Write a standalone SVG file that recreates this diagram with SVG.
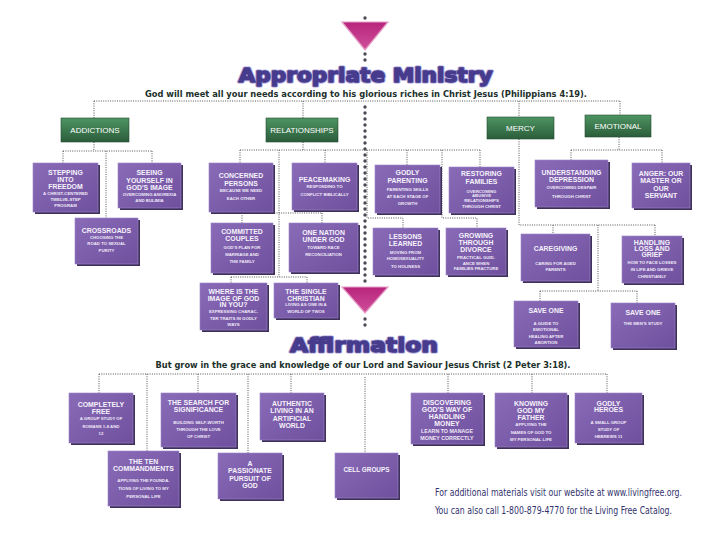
<svg xmlns="http://www.w3.org/2000/svg" width="720" height="540" viewBox="0 0 720 540">
<defs>
<linearGradient id="pg" x1="0" y1="0" x2="1" y2="1"><stop offset="0" stop-color="#8a6bb8"/><stop offset="1" stop-color="#6f509e"/></linearGradient>
<linearGradient id="gg" x1="0" y1="0" x2="0" y2="1"><stop offset="0" stop-color="#4e9462"/><stop offset="1" stop-color="#2b5d3a"/></linearGradient>
<linearGradient id="tg" x1="0" y1="0" x2="0" y2="1"><stop offset="0" stop-color="#b8247c"/><stop offset="1" stop-color="#d0509a"/></linearGradient>
<style>
.sh{fill:#40305c}
.b{fill:url(#pg);stroke:#9b86c6;stroke-width:.6}
.g{fill:url(#gg);stroke:#234a2f;stroke-width:.6}
.t{font-family:"Liberation Sans","DejaVu Sans",sans-serif;font-weight:bold;font-size:6.9px;fill:#f6f2fb;text-anchor:middle}
.s{font-family:"Liberation Sans","DejaVu Sans",sans-serif;font-weight:bold;font-size:4.3px;fill:#efe8f7;text-anchor:middle}
.gt{font-family:"Liberation Sans","DejaVu Sans",sans-serif;font-size:8px;fill:#ffffff;text-anchor:middle}
.c{fill:none;stroke:#555;stroke-width:1;stroke-dasharray:1 1.3}
.big{fill:none;stroke:#4a4a55;stroke-width:3.4;stroke-linecap:round;stroke-dasharray:0 6}
.tri{fill:url(#tg);stroke:#e6a0c8;stroke-width:1.2}
.h1{font-family:"DejaVu Sans","Liberation Sans",sans-serif;font-weight:bold;text-anchor:middle}
.glow{fill:#b3aadd;stroke:#b3aadd;stroke-width:3;stroke-linejoin:round}
.ink{fill:#463b8c;stroke:#463b8c;stroke-width:1.3;stroke-linejoin:round}
.sub{font-family:"DejaVu Sans","Liberation Sans",sans-serif;font-weight:bold;font-size:8.6px;fill:#20302a;text-anchor:middle}
.ft{font-family:"DejaVu Sans Condensed","Liberation Sans Narrow","Liberation Sans",sans-serif;font-stretch:condensed;font-size:9.6px;fill:#33336e}
</style>
</defs>
<rect width="720" height="540" fill="#ffffff"/>

<g id="header-top">
<polygon class="tri" points="342,22 388,22 365,50"/>
<text class="h1 glow" x="365.5" y="82" font-size="19" textLength="254" lengthAdjust="spacingAndGlyphs">Appropriate Ministry</text>
<text class="h1 ink" x="365.5" y="82" font-size="19" textLength="254" lengthAdjust="spacingAndGlyphs">Appropriate Ministry</text>
<text class="sub" x="366" y="97" textLength="442" lengthAdjust="spacingAndGlyphs">God will meet all your needs according to his glorious riches in Christ Jesus (Philippians 4:19).</text>
</g>
<g id="header-affirmation">
<polygon class="tri" points="342,287 388,287 365,313"/>
<text class="h1 glow" x="364" y="352" font-size="20" textLength="148" lengthAdjust="spacingAndGlyphs">Affirmation</text>
<text class="h1 ink" x="364" y="352" font-size="20" textLength="148" lengthAdjust="spacingAndGlyphs">Affirmation</text>
<text class="sub" x="363" y="368" textLength="415" lengthAdjust="spacingAndGlyphs">But grow in the grace and knowledge of our Lord and Saviour Jesus Christ (2 Peter 3:18).</text>
</g>

<g id="connectors">
<path class="big" d="M365,18 V18.1 M365,54 V64 M365,107 V282 M365,319 V331"/>
<path class="c" d="M94,101 H620 M94,101 V118 M303,101 V118 M519,101 V117 M620,101 V115"/>
<path class="c" d="M94,142 V151 M63,151 H152 M63,151 V163 M152,151 V163 M106,151 V218"/>
<path class="c" d="M303,142 V150 M240,150 H480 M240,150 V163 M325,150 V163 M279,150 V277 M407,150 V165 M480,150 V167 M367,150 V218 H403 V228 M442,150 V218 H477 V228"/>
<path class="c" d="M242,213 H322 M242,213 V223 M322,213 V223 M231,277 H307 M231,277 V283 M307,277 V283"/>
<path class="c" d="M519,139 V225 H655 M553,225 V234 M655,225 V236 M598,225 V291 M540,291 H637 M540,291 V301 M637,291 V303"/>
<path class="c" d="M619,137 V150 M571,150 H662 M571,150 V160 M662,150 V163"/>
<path class="c" d="M99,374 H607 M99,374 V393 M147,374 V451 M198,374 V393 M248,374 V453 M291,374 V393 M365,377 V453 M448,374 V393 M532,374 V393 M607,374 V393"/>
</g>

<g id="addictions"><rect class="g" x="61" y="118" width="68" height="24"/><text class="gt" x="95" y="133">ADDICTIONS</text></g>
<g id="relationships"><rect class="g" x="266" y="118" width="72" height="24"/><text class="gt" x="302" y="133">RELATIONSHIPS</text></g>
<g id="mercy"><rect class="g" x="487" y="117" width="67" height="22"/><text class="gt" x="520.5" y="131">MERCY</text></g>
<g id="emotional"><rect class="g" x="585" y="115" width="66" height="22"/><text class="gt" x="618" y="129">EMOTIONAL</text></g>

<g id="stepping"><rect class="sh" x="35" y="165" width="65" height="49"/><rect class="b" x="33" y="163" width="65" height="49"/>
<text class="t"><tspan x="65.5" y="175">STEPPING</tspan><tspan x="65.5" y="182">INTO</tspan><tspan x="65.5" y="189">FREEDOM</tspan></text>
<text class="s"><tspan x="65.5" y="195">A CHRIST-CENTERED</tspan><tspan x="65.5" y="201">TWELVE-STEP</tspan><tspan x="65.5" y="207">PROGRAM</tspan></text></g>

<g id="seeing"><rect class="sh" x="120" y="165" width="63" height="45"/><rect class="b" x="118" y="163" width="63" height="45"/>
<text class="t"><tspan x="149.5" y="175">SEEING</tspan><tspan x="149.5" y="183">YOURSELF IN</tspan><tspan x="149.5" y="190">GOD'S IMAGE</tspan></text>
<text class="s"><tspan x="149.5" y="196">OVERCOMING ANOREXIA</tspan><tspan x="149.5" y="201.5">AND BULIMIA</tspan></text></g>

<g id="crossroads"><rect class="sh" x="77" y="220" width="63" height="46"/><rect class="b" x="75" y="218" width="63" height="46"/>
<text class="t"><tspan x="106.5" y="233">CROSSROADS</tspan></text>
<text class="s"><tspan x="106.5" y="239">CHOOSING THE</tspan><tspan x="106.5" y="245">ROAD TO SEXUAL</tspan><tspan x="106.5" y="251.5">PURITY</tspan></text></g>

<g id="concerned"><rect class="sh" x="211" y="165" width="64" height="49"/><rect class="b" x="209" y="163" width="64" height="49"/>
<text class="t"><tspan x="241" y="178">CONCERNED</tspan><tspan x="241" y="186">PERSONS</tspan></text>
<text class="s"><tspan x="241" y="192">BECAUSE WE NEED</tspan><tspan x="241" y="199.5">EACH OTHER</tspan></text></g>

<g id="peacemaking"><rect class="sh" x="294" y="165" width="65" height="47"/><rect class="b" x="292" y="163" width="65" height="47"/>
<text class="t"><tspan x="324.5" y="182">PEACEMAKING</tspan></text>
<text class="s"><tspan x="324.5" y="188">RESPONDING TO</tspan><tspan x="324.5" y="195.5">CONFLICT BIBLICALLY</tspan></text></g>

<g id="committed"><rect class="sh" x="213" y="225" width="62" height="50"/><rect class="b" x="211" y="223" width="62" height="50"/>
<text class="t"><tspan x="242" y="234">COMMITTED</tspan><tspan x="242" y="241">COUPLES</tspan></text>
<text class="s"><tspan x="242" y="248.5">GOD'S PLAN FOR</tspan><tspan x="242" y="255.5">MARRIAGE AND</tspan><tspan x="242" y="262.5">THE FAMILY</tspan></text></g>

<g id="onenation"><rect class="sh" x="291" y="225" width="69" height="49"/><rect class="b" x="289" y="223" width="69" height="49"/>
<text class="t"><tspan x="323.5" y="235">ONE NATION</tspan><tspan x="323.5" y="242">UNDER GOD</tspan></text>
<text class="s"><tspan x="323.5" y="248.5">TOWARD RACE</tspan><tspan x="323.5" y="255.5">RECONCILIATION</tspan></text></g>

<g id="whereis"><rect class="sh" x="202" y="285" width="67" height="47"/><rect class="b" x="200" y="283" width="67" height="47"/>
<text class="t"><tspan x="233.5" y="294">WHERE IS THE</tspan><tspan x="233.5" y="300.5">IMAGE OF GOD</tspan><tspan x="233.5" y="306.5">IN YOU?</tspan></text>
<text class="s"><tspan x="233.5" y="312.5">EXPRESSING CHARAC-</tspan><tspan x="233.5" y="319.5">TER TRAITS IN GODLY</tspan><tspan x="233.5" y="325.5">WAYS</tspan></text></g>

<g id="single"><rect class="sh" x="276" y="285" width="64" height="35"/><rect class="b" x="274" y="283" width="64" height="35"/>
<text class="t"><tspan x="306" y="294">THE SINGLE</tspan><tspan x="306" y="300.5">CHRISTIAN</tspan></text>
<text class="s"><tspan x="306" y="306">LIVING AS ONE IN A</tspan><tspan x="306" y="312.5">WORLD OF TWOS</tspan></text></g>

<g id="godlyparenting"><rect class="sh" x="377" y="167" width="65" height="48"/><rect class="b" x="375" y="165" width="65" height="48"/>
<text class="t"><tspan x="407.5" y="175">GODLY</tspan><tspan x="407.5" y="183">PARENTING</tspan></text>
<text class="s"><tspan x="407.5" y="190.5">PARENTING SKILLS</tspan><tspan x="407.5" y="197.5">AT EACH STAGE OF</tspan><tspan x="407.5" y="204.5">GROWTH</tspan></text></g>

<g id="restoring"><rect class="sh" x="451" y="169" width="65" height="46"/><rect class="b" x="449" y="167" width="65" height="46"/>
<text class="t"><tspan x="481.5" y="176">RESTORING</tspan><tspan x="481.5" y="184">FAMILIES</tspan></text>
<text class="s"><tspan x="481.5" y="192.5">OVERCOMING</tspan><tspan x="481.5" y="197">ABUSIVE</tspan><tspan x="481.5" y="201.5">RELATIONSHIPS</tspan><tspan x="481.5" y="207.5">THROUGH CHRIST</tspan></text></g>

<g id="lessons"><rect class="sh" x="375" y="230" width="65" height="47"/><rect class="b" x="373" y="228" width="65" height="47"/>
<text class="t"><tspan x="405.5" y="238.5">LESSONS</tspan><tspan x="405.5" y="245.5">LEARNED</tspan></text>
<text class="s"><tspan x="405.5" y="253.5">MOVING FROM</tspan><tspan x="405.5" y="260">HOMOSEXUALITY</tspan><tspan x="405.5" y="267.5">TO HOLINESS</tspan></text></g>

<g id="growing"><rect class="sh" x="448" y="230" width="60" height="47"/><rect class="b" x="446" y="228" width="60" height="47"/>
<text class="t"><tspan x="476" y="237.5">GROWING</tspan><tspan x="476" y="244.5">THROUGH</tspan><tspan x="476" y="251.5">DIVORCE</tspan></text>
<text class="s"><tspan x="476" y="258.5">PRACTICAL GUID-</tspan><tspan x="476" y="264.5">ANCE WHEN</tspan><tspan x="476" y="270">FAMILIES FRACTURE</tspan></text></g>

<g id="depression"><rect class="sh" x="537" y="162" width="73" height="47"/><rect class="b" x="535" y="160" width="73" height="47"/>
<text class="t"><tspan x="571.5" y="174.5">UNDERSTANDING</tspan><tspan x="571.5" y="181.5">DEPRESSION</tspan></text>
<text class="s"><tspan x="571.5" y="188.5">OVERCOMING DESPAIR</tspan><tspan x="571.5" y="197.5">THROUGH CHRIST</tspan></text></g>

<g id="anger"><rect class="sh" x="634" y="165" width="58" height="45"/><rect class="b" x="632" y="163" width="58" height="45"/>
<text class="t"><tspan x="661" y="175.5">ANGER: OUR</tspan><tspan x="661" y="182.5">MASTER OR</tspan><tspan x="661" y="190.5">OUR</tspan><tspan x="661" y="197.5">SERVANT</tspan></text></g>

<g id="caregiving"><rect class="sh" x="523" y="236" width="69" height="47"/><rect class="b" x="521" y="234" width="69" height="47"/>
<text class="t"><tspan x="555.5" y="250.5">CAREGIVING</tspan></text>
<text class="s"><tspan x="555.5" y="264.5">CARING FOR AGED</tspan><tspan x="555.5" y="270.5">PARENTS</tspan></text></g>

<g id="handling"><rect class="sh" x="624" y="238" width="60" height="47"/><rect class="b" x="622" y="236" width="60" height="47"/>
<text class="t"><tspan x="652" y="244.5">HANDLING</tspan><tspan x="652" y="250.5">LOSS AND</tspan><tspan x="652" y="256.5">GRIEF</tspan></text>
<text class="s"><tspan x="652" y="263.5">HOW TO FACE LOSSES</tspan><tspan x="652" y="270.5">IN LIFE AND GRIEVE</tspan><tspan x="652" y="277.5">CHRISTIANLY</tspan></text></g>

<g id="saveone1"><rect class="sh" x="516" y="303" width="64" height="46"/><rect class="b" x="514" y="301" width="64" height="46"/>
<text class="t"><tspan x="546" y="312.5">SAVE ONE</tspan></text>
<text class="s"><tspan x="546" y="324.5">A GUIDE TO</tspan><tspan x="546" y="330.5">EMOTIONAL</tspan><tspan x="546" y="337.5">HEALING AFTER</tspan><tspan x="546" y="343.5">ABORTION</tspan></text></g>

<g id="saveone2"><rect class="sh" x="613" y="305" width="64" height="45"/><rect class="b" x="611" y="303" width="64" height="45"/>
<text class="t"><tspan x="643" y="314.5">SAVE ONE</tspan></text>
<text class="s"><tspan x="643" y="324.5">THE MEN'S STUDY</tspan></text></g>

<g id="completely"><rect class="sh" x="71" y="395" width="64" height="50"/><rect class="b" x="69" y="393" width="64" height="50"/>
<text class="t"><tspan x="101" y="406.5">COMPLETELY</tspan><tspan x="101" y="413.5">FREE</tspan></text>
<text class="s"><tspan x="101" y="419.5">A GROUP STUDY OF</tspan><tspan x="101" y="427.5">ROMANS 1-8 AND</tspan><tspan x="101" y="434.5">12</tspan></text></g>

<g id="search"><rect class="sh" x="163" y="395" width="75" height="54"/><rect class="b" x="161" y="393" width="75" height="54"/>
<text class="t"><tspan x="198.5" y="404.5">THE SEARCH FOR</tspan><tspan x="198.5" y="411.5">SIGNIFICANCE</tspan></text>
<text class="s"><tspan x="198.5" y="423.5">BUILDING SELF-WORTH</tspan><tspan x="198.5" y="430.5">THROUGH THE LOVE</tspan><tspan x="198.5" y="437.5">OF CHRIST</tspan></text></g>

<g id="authentic"><rect class="sh" x="262" y="395" width="64" height="47"/><rect class="b" x="260" y="393" width="64" height="47"/>
<text class="t"><tspan x="292" y="405.5">AUTHENTIC</tspan><tspan x="292" y="413">LIVING IN AN</tspan><tspan x="292" y="420.5">ARTIFICIAL</tspan><tspan x="292" y="427.5">WORLD</tspan></text></g>

<g id="tencommandments"><rect class="sh" x="110" y="453" width="71" height="55"/><rect class="b" x="108" y="451" width="71" height="55"/>
<text class="t"><tspan x="143.5" y="463.5">THE TEN</tspan><tspan x="143.5" y="470.5">COMMANDMENTS</tspan></text>
<text class="s"><tspan x="143.5" y="481.5">APPLYING THE FOUNDA-</tspan><tspan x="143.5" y="489.5">TIONS OF LIVING TO MY</tspan><tspan x="143.5" y="497.5">PERSONAL LIFE</tspan></text></g>

<g id="passionate"><rect class="sh" x="220" y="455" width="64" height="46"/><rect class="b" x="218" y="453" width="64" height="46"/>
<text class="t"><tspan x="250" y="465.5">A</tspan><tspan x="250" y="473">PASSIONATE</tspan><tspan x="250" y="480.5">PURSUIT OF</tspan><tspan x="250" y="487.5">GOD</tspan></text></g>

<g id="cellgroups"><rect class="sh" x="337" y="455" width="63" height="45"/><rect class="b" x="335" y="453" width="63" height="45"/>
<text class="t" style="font-size:6.4px"><tspan x="366.5" y="471.5">CELL GROUPS</tspan></text></g>

<g id="money"><rect class="sh" x="413" y="395" width="72" height="51"/><rect class="b" x="411" y="393" width="72" height="51"/>
<text class="t"><tspan x="447" y="404.5">DISCOVERING</tspan><tspan x="447" y="411.5">GOD'S WAY OF</tspan><tspan x="447" y="418.5">HANDLING</tspan><tspan x="447" y="425.5">MONEY</tspan></text>
<text class="s" style="font-size:5.3px"><tspan x="447" y="432.8">LEARN TO MANAGE</tspan><tspan x="447" y="439.8">MONEY CORRECTLY</tspan></text></g>

<g id="knowing"><rect class="sh" x="497" y="395" width="72" height="54"/><rect class="b" x="495" y="393" width="72" height="54"/>
<text class="t"><tspan x="531" y="405.5">KNOWING</tspan><tspan x="531" y="412.5">GOD MY</tspan><tspan x="531" y="419.5">FATHER</tspan></text>
<text class="s"><tspan x="531" y="425.6">APPLYING THE</tspan><tspan x="531" y="433.6">NAMES OF GOD TO</tspan><tspan x="531" y="440.6">MY PERSONAL LIFE</tspan></text></g>

<g id="heroes"><rect class="sh" x="577" y="395" width="67" height="50"/><rect class="b" x="575" y="393" width="67" height="50"/>
<text class="t"><tspan x="608.5" y="405.5">GODLY</tspan><tspan x="608.5" y="411.5">HEROES</tspan></text>
<text class="s"><tspan x="608.5" y="423.6">A SMALL GROUP</tspan><tspan x="608.5" y="430.6">STUDY OF</tspan><tspan x="608.5" y="437.6">HEBREWS 11</tspan></text></g>

<g id="footer">
<text class="ft" x="435" y="496" textLength="247" lengthAdjust="spacingAndGlyphs">For additional materials visit our website at www.livingfree.org.</text>
<text class="ft" x="435" y="514" textLength="237" lengthAdjust="spacingAndGlyphs">You can also call 1-800-879-4770 for the Living Free Catalog.</text>
</g>
</svg>
